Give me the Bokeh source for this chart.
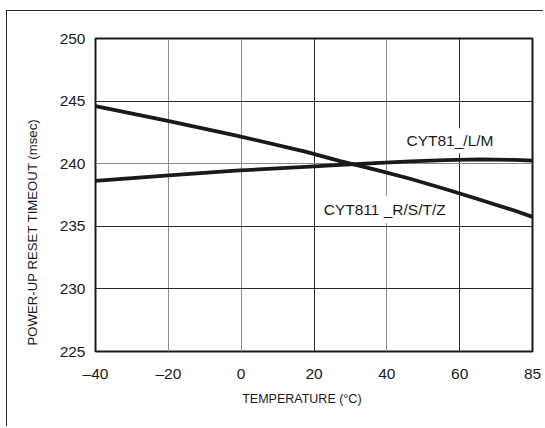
from bokeh.plotting import figure
from bokeh.models import FixedTicker, Grid, Label, Range1d, ColumnDataSource, Title
from bokeh.embed import file_html
from bokeh.resources import INLINE

# Ambient temperature (°C)
temperature = [-40, -20, 0, 20, 30, 40, 50, 60, 70, 80, 85]
# Power-up reset timeout (ms), CYT811_R/S/T/Z parts
timeout_rstz = [244.60, 243.46, 242.27, 240.96, 240.20, 239.52, 238.80, 237.98, 237.12, 236.24, 235.75]
# Power-up reset timeout (ms), CYT81_/L/M parts
timeout_lm = [238.63, 239.04, 239.44, 239.75, 239.90, 240.05, 240.18, 240.29, 240.34, 240.30, 240.24]

x_tick_labels = ["–40", "–20", "0", "20", "40", "60", "85"]
y_ticks = [225, 230, 235, 240, 245, 250]

X_MIN, X_MAX = -40, 85
Y_MIN, Y_MAX = 225, 250

FONT = "Liberation Sans"
INK = "#1a1a1a"
GRID_DARK = "#2a2a2a"
GRID_LIGHT = "#8c8c8c"

# the temperature axis is split into six equal divisions
x_ticks = [round(X_MIN + i * (X_MAX - X_MIN) / 6, 4) for i in range(7)]

p = figure(
    width=537, height=416,
    x_range=Range1d(X_MIN, X_MAX), y_range=Range1d(Y_MIN, Y_MAX),
    output_backend="svg", toolbar_location=None,
    min_border_left=88, min_border_right=12, min_border_top=27, min_border_bottom=76,
    margin=(10, 0, 0, 6),
    styles={"border-left": "1.5px solid #2a2a2a", "border-top": "1.5px solid #2a2a2a"},
)
p.background_fill_color = "white"
p.border_fill_color = "white"
p.outline_line_color = INK
p.outline_line_width = 2

# axes: labels only, the frame outline draws the axis lines
p.xaxis.ticker = FixedTicker(ticks=x_ticks)
p.xaxis.major_label_overrides = {t: lab for t, lab in zip(x_ticks, x_tick_labels)}
p.yaxis.ticker = FixedTicker(ticks=y_ticks)
for ax in (p.xaxis[0], p.yaxis[0]):
    ax.axis_line_color = None
    ax.major_tick_line_color = None
    ax.minor_tick_line_color = None
    ax.major_tick_out = 0
    ax.major_tick_in = 0
    ax.major_label_text_font = FONT
    ax.major_label_text_font_size = "15.5px"
    ax.major_label_text_color = INK
p.xaxis.major_label_standoff = 13
p.yaxis.major_label_standoff = 10

# grid: mix of dark and light rules
p.xgrid.visible = False
p.ygrid.visible = False
p.add_layout(Grid(dimension=0, ticker=FixedTicker(ticks=[x_ticks[1], x_ticks[2], x_ticks[4]]),
                  grid_line_color=GRID_LIGHT, grid_line_width=1))
p.add_layout(Grid(dimension=0, ticker=FixedTicker(ticks=[x_ticks[3], x_ticks[5]]),
                  grid_line_color=GRID_DARK, grid_line_width=1))
p.add_layout(Grid(dimension=1, ticker=FixedTicker(ticks=[240]),
                  grid_line_color=GRID_LIGHT, grid_line_width=1))
p.add_layout(Grid(dimension=1, ticker=FixedTicker(ticks=[230, 235, 245]),
                  grid_line_color=GRID_DARK, grid_line_width=1))

src = ColumnDataSource(dict(t=temperature, rstz=timeout_rstz, lm=timeout_lm))
p.line("t", "rstz", source=src, line_color=INK, line_width=3.8)
p.line("t", "lm", source=src, line_color=INK, line_width=3.8)

# curve captions on white boxes
p.add_layout(Label(x=61.4, y=241.83, text="CYT81_/L/M",
                   text_align="center", text_baseline="middle",
                   text_font=FONT, text_font_size="15.5px", text_color=INK,
                   background_fill_color="white", padding=4))
p.add_layout(Label(x=43.3, y=236.34, text="CYT811 _R/S/T/Z",
                   text_align="center", text_baseline="middle",
                   text_font=FONT, text_font_size="15.5px", text_color=INK,
                   background_fill_color="white", padding=(5, 9, 5, 5)))

# axis titles
p.add_layout(Title(text="POWER-UP RESET TIMEOUT (msec)", align="left", offset=6,
                   vertical_align="middle", standoff=31,
                   text_font=FONT, text_font_size="13.2px", text_font_style="normal",
                   text_color=INK), "left")
p.add_layout(Title(text="TEMPERATURE (°C)", align="left", offset=146.7,
                   vertical_align="middle", standoff=13,
                   text_font=FONT, text_font_size="12.5px", text_font_style="normal",
                   text_color=INK), "below")

open("out.html", "w").write(file_html(p, INLINE))
